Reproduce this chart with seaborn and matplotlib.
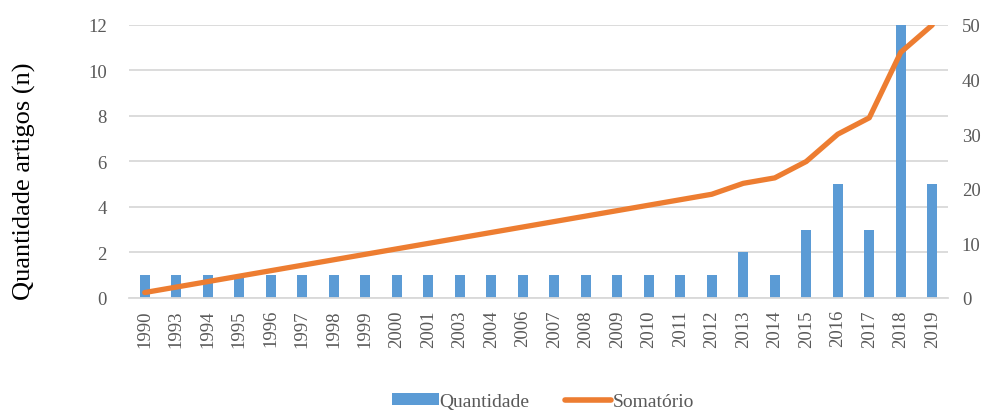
import numpy as np
import pandas as pd
import matplotlib
matplotlib.use("Agg")
import matplotlib.pyplot as plt
from matplotlib.patches import Patch
from matplotlib.lines import Line2D
import seaborn as sns

anos = ["1990", "1993", "1994", "1995", "1996", "1997", "1998", "1999", "2000",
        "2001", "2003", "2004", "2006", "2007", "2008", "2009", "2010", "2011",
        "2012", "2013", "2014", "2015", "2016", "2017", "2018", "2019"]
quantidade = [1, 1, 1, 1, 1, 1, 1, 1, 1, 1, 1, 1, 1, 1, 1, 1, 1, 1, 1,
              2, 1, 3, 5, 3, 12, 5]
somatorio = [1, 2, 3, 4, 5, 6, 7, 8, 9, 10, 11, 12, 13, 14, 15, 16, 17, 18, 19,
             21, 22, 25, 30, 33, 45, 50]

AZUL = "#5B9BD5"
LARANJA = "#ED7D31"
CINZA = "#595959"
GRADE = "#D9D9D9"

sns.set_theme(style="white")
plt.rcParams["font.family"] = ["Liberation Serif", "DejaVu Serif"]

df = pd.DataFrame({"ano": anos, "quantidade": quantidade,
                   "somatorio": somatorio, "pos": np.arange(len(anos))})

fig = plt.figure(figsize=(9.87, 4.14), dpi=100)
ax = fig.add_axes([0.1307, 0.2778, 0.8298, 0.6594])

sns.barplot(data=df, x="ano", y="quantidade", color=AZUL, width=0.33,
            saturation=1, ax=ax, zorder=2, edgecolor="none")
ax.set_ylim(0, 12)
ax.set_yticks(range(0, 13, 2))
ax.set_xlim(-0.5, len(anos) - 0.5)
ax.yaxis.grid(True, color=GRADE, linewidth=1.3, zorder=0)
ax.set_axisbelow(True)
for s in ["top", "right", "left"]:
    ax.spines[s].set_visible(False)
ax.spines["bottom"].set_color(GRADE)
ax.spines["bottom"].set_linewidth(1.3)
ax.tick_params(axis="x", rotation=90, colors=CINZA, labelsize=13.5, length=0, pad=8)
ax.tick_params(axis="y", colors=CINZA, labelsize=13.5, length=0, pad=16)
ax.set_xlabel("")
ax.set_ylabel("Quantidade artigos (n)", fontsize=19, color="black")
ax.yaxis.set_label_coords(-0.113, 0.43)

ax2 = ax.twinx()
sns.lineplot(data=df, x="pos", y="somatorio", color=LARANJA, linewidth=3.8,
             ax=ax2, zorder=3, solid_capstyle="round")
ax2.set_ylim(0, 50)
ax2.set_yticks(range(0, 51, 10))
ax2.set_xlim(-0.5, len(anos) - 0.5)
ax2.set_ylabel("")
for s in ["top", "right", "left", "bottom"]:
    ax2.spines[s].set_visible(False)
ax2.tick_params(axis="y", colors=CINZA, labelsize=13.5, length=0, pad=10)

handles = [Patch(facecolor=AZUL, edgecolor="none"),
           Line2D([0], [0], color=LARANJA, linewidth=4, solid_capstyle="round")]
fig.legend(handles, ["Quantidade", "Somatório"], loc="center",
           bbox_to_anchor=(0.55, 0.028), ncol=2, frameon=False,
           fontsize=14, labelcolor=CINZA, handlelength=2.4, handletextpad=0.05,
           columnspacing=1.8, handleheight=0.5)

fig.savefig("out.png", dpi=100)
